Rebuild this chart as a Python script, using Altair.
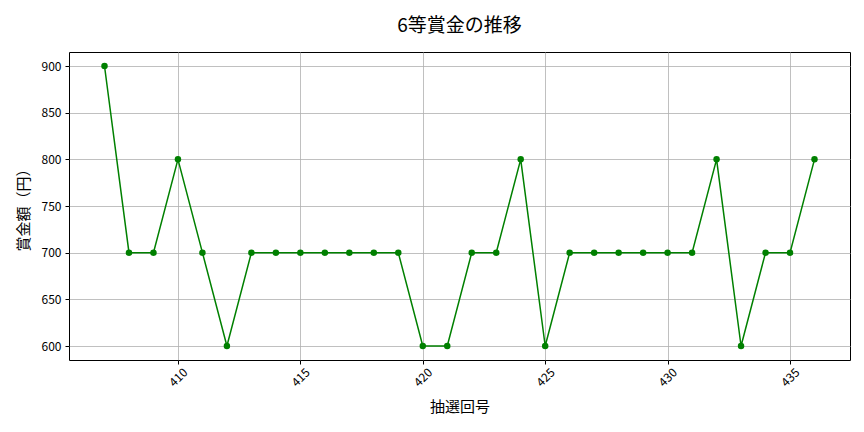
import altair as alt
import pandas as pd

draws = list(range(407, 437))
prizes = [900, 700, 700, 800, 700, 600, 700, 700, 700, 700,
          700, 700, 700, 600, 600, 700, 700, 800, 600, 700,
          700, 700, 700, 700, 700, 800, 600, 700, 700, 800]

df = pd.DataFrame({"draw": draws, "prize": prizes})

FONT = "Noto Sans CJK JP"

x = alt.X("draw:Q", title="抽選回号",
          scale=alt.Scale(domain=[405.55, 437.45], nice=False, zero=False),
          axis=alt.Axis(values=[410, 415, 420, 425, 430, 435], labelAngle=-45,
                        labelAlign="center", labelBaseline="middle", labelFontSize=12,
                        titleFontSize=15, titleFontWeight="normal", titlePadding=11,
                        grid=True, gridColor="#b0b0b0", gridWidth=0.8,
                        tickColor="black", domain=False, labelColor="black",
                        tickSize=4, labelPadding=13))
y = alt.Y("prize:Q", title="賞金額（円）",
          scale=alt.Scale(domain=[585, 915], nice=False, zero=False),
          axis=alt.Axis(values=[600, 650, 700, 750, 800, 850, 900], labelFontSize=12,
                        titleFontSize=15, titleFontWeight="normal", titlePadding=10,
                        grid=True, gridColor="#b0b0b0", gridWidth=0.8,
                        tickColor="black", domain=False, labelColor="black",
                        tickSize=4, labelPadding=4))

base = alt.Chart(df)
line = base.mark_line(color="green", strokeWidth=1.5).encode(x=x, y=y)
pts = base.mark_circle(color="green", size=42, opacity=1).encode(x=x, y=y)

chart = (line + pts).properties(
    width=781, height=308,
    title=alt.TitleParams("6等賞金の推移", fontSize=19, fontWeight="normal", font=FONT,
                          anchor="middle", offset=16),
    autosize=alt.AutoSizeParams(type="none"),
    padding={"left": 61, "top": 44, "right": 6, "bottom": 64},
).configure(font=FONT).configure_view(stroke="black", strokeWidth=1)

chart.save("out.html", embed_options={"renderer": "svg", "actions": False})
